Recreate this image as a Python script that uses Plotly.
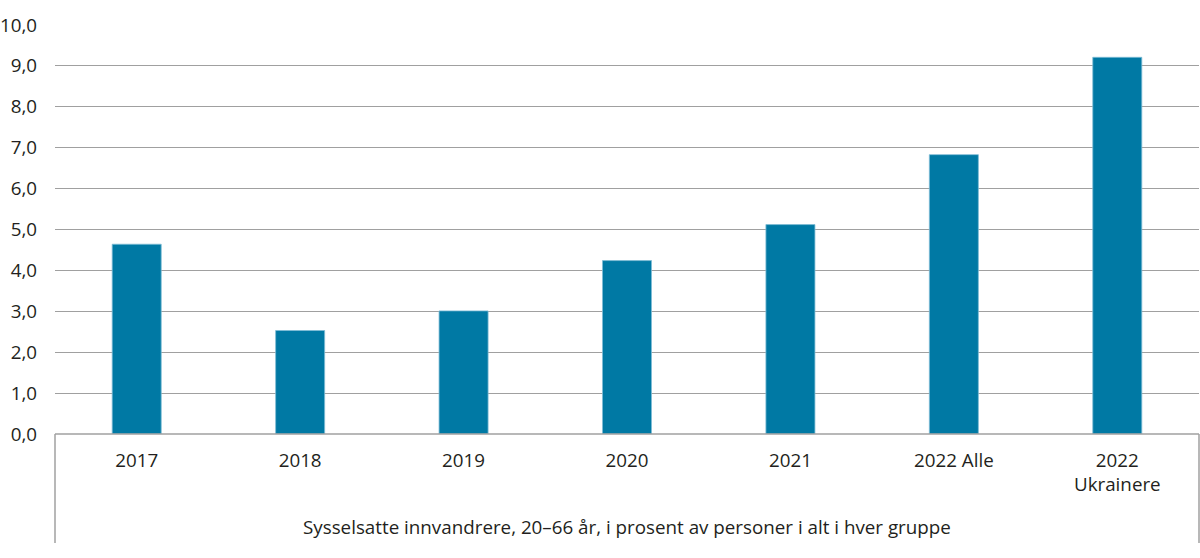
import plotly.graph_objects as go

categories = ["2017", "2018", "2019", "2020", "2021", "2022 Alle", "2022<br>Ukrainere"]
values = [4.64, 2.53, 3.01, 4.24, 5.12, 6.83, 9.21]
y_ticks = [0, 1, 2, 3, 4, 5, 6, 7, 8, 9, 10]
y_tick_labels = ["0,0", "1,0", "2,0", "3,0", "4,0", "5,0", "6,0", "7,0", "8,0", "9,0", "10,0"]
caption = "Sysselsatte innvandrere, 20–66 år, i prosent av personer i alt i hver gruppe"

W, H = 1200, 558
ml, mr, mt, mb = 55, 1, 25, 124
ph = H - mt - mb

fig = go.Figure()
fig.add_trace(go.Bar(
    x=categories, y=values,
    marker=dict(color="#0079a4", line=dict(color="#7fbcd6", width=0.8)),
    width=0.3,
))

font = "'Open Sans', sans-serif"
fs = 18.8
fig.update_layout(
    width=W, height=H,
    margin=dict(l=ml, r=mr, t=mt, b=mb, pad=0),
    plot_bgcolor="white", paper_bgcolor="white",
    showlegend=False,
    font=dict(family=font, size=fs, color="#231f20"),
    xaxis=dict(
        showgrid=False, showline=False, zeroline=False,
        ticks="", tickfont=dict(size=fs, color="#231f20"),
        ticklabelstandoff=13,
        fixedrange=True,
    ),
    yaxis=dict(
        range=[0, 10], tickvals=y_ticks, ticktext=y_tick_labels,
        showgrid=True, gridcolor="#a0a0a0", gridwidth=1.4,
        zeroline=False, showline=False, ticks="",
        ticklabelstandoff=17,
        tickfont=dict(size=fs, color="#231f20"),
    ),
)

# box below axis (baseline + side lines)
bottom = -(543 - (H - mb)) / ph
line_style = dict(color="#a0a0a0", width=1.5)
fig.add_shape(type="line", xref="paper", yref="paper", x0=0, x1=1, y0=0, y1=0, line=line_style)
fig.add_shape(type="line", xref="paper", yref="paper", x0=0, x1=0, y0=0, y1=bottom, line=line_style)
fig.add_shape(type="line", xref="paper", yref="paper", x0=1, x1=1, y0=0, y1=bottom, line=line_style)

fig.add_annotation(
    text=caption, xref="paper", yref="paper",
    x=0.5, y=-(527 - (H - mb)) / ph, xanchor="center", yanchor="middle",
    showarrow=False, font=dict(size=fs, color="#231f20", family=font),
)

fig.write_html("out.html")
